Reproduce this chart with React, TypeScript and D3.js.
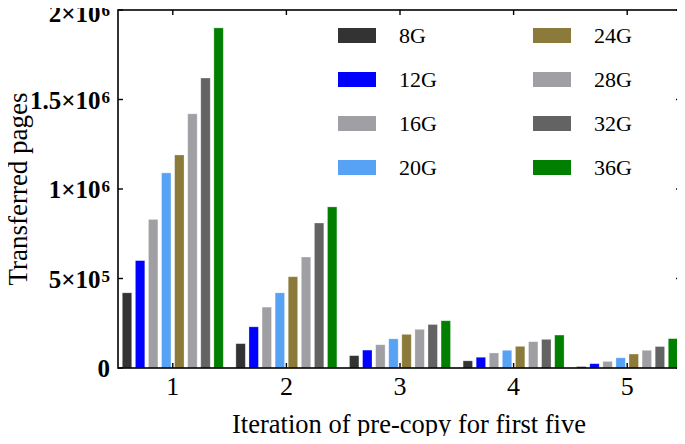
import React, { useEffect, useRef } from "react";
import * as d3 from "d3";

const iterations = [1, 2, 3, 4, 5];
const seriesNames = ["8G", "12G", "16G", "20G", "24G", "28G", "32G", "36G"];
const seriesColors = ["#333333", "#0000ff", "#a0a0a4", "#58a2f6", "#8b7a3a", "#a0a0a4", "#636363", "#007f00"];
// values per series, one entry per iteration
const v8G = [420000, 136000, 69000, 40000, 8000];
const v12G = [600000, 230000, 100000, 60000, 24000];
const v16G = [830000, 340000, 130000, 84000, 37000];
const v20G = [1090000, 420000, 163000, 99000, 57000];
const v24G = [1190000, 510000, 188000, 121000, 78000];
const v28G = [1420000, 620000, 216000, 147000, 99000];
const v32G = [1620000, 810000, 243000, 160000, 120000];
const v36G = [1900000, 900000, 264000, 184000, 164000];
const seriesValues = [v8G, v12G, v16G, v20G, v24G, v28G, v32G, v36G];
const yTicks = [0, 500000, 1000000, 1500000, 2000000];
const yTickLabels: [string, string][] = [["0", ""], ["5×10", "5"], ["1×10", "6"], ["1.5×10", "6"], ["2×10", "6"]];

export default function App() {
  const svgRef = useRef<SVGSVGElement>(null);

  useEffect(() => {
    if (!svgRef.current) return;
    const width = 685;
    const height = 444;
    const box = { left: 118, right: 681, top: 10, bottom: 368 };
    const font = "'Liberation Serif', 'Times New Roman', serif";

    const svg = d3.select(svgRef.current);
    svg.selectAll("*").remove();
    svg.attr("width", width).attr("height", height);

    const x = d3.scaleLinear().domain([0.5, 5.5]).range([116, 684]);
    const y = d3.scaleLinear().domain([0, 2000000]).range([box.bottom, box.top]);
    const inner = d3.scaleBand<string>()
      .domain(seriesNames)
      .range([-50.5, 50.5])
      .paddingInner(0.28)
      .paddingOuter(0);

    // bars
    seriesNames.forEach((name, si) => {
      svg.append("g")
        .selectAll("rect")
        .data(seriesValues[si])
        .join("rect")
        .attr("x", (_, i) => x(iterations[i]) + (inner(name) ?? 0))
        .attr("y", d => y(d))
        .attr("width", inner.bandwidth())
        .attr("height", d => y(0) - y(d))
        .attr("fill", seriesColors[si])
        .attr("stroke", "#ffffff")
        .attr("stroke-opacity", 0.35)
        .attr("stroke-width", 0.8);
    });

    // frame
    svg.append("rect")
      .attr("x", box.left).attr("y", box.top)
      .attr("width", box.right - box.left).attr("height", box.bottom - box.top)
      .attr("fill", "none").attr("stroke", "#000").attr("stroke-width", 1.6);

    // ticks (inward, mirrored)
    const tk = 5;
    yTicks.forEach(t => {
      svg.append("line").attr("x1", box.left).attr("x2", box.left + tk)
        .attr("y1", y(t)).attr("y2", y(t)).attr("stroke", "#000").attr("stroke-width", 1.4);
      svg.append("line").attr("x1", box.right).attr("x2", box.right - tk)
        .attr("y1", y(t)).attr("y2", y(t)).attr("stroke", "#000").attr("stroke-width", 1.4);
    });
    iterations.forEach(it => {
      svg.append("line").attr("x1", x(it)).attr("x2", x(it))
        .attr("y1", box.bottom).attr("y2", box.bottom - tk).attr("stroke", "#000").attr("stroke-width", 1.4);
      svg.append("line").attr("x1", x(it)).attr("x2", x(it))
        .attr("y1", box.top).attr("y2", box.top + tk).attr("stroke", "#000").attr("stroke-width", 1.4);
    });

    // y tick labels
    yTicks.forEach((t, i) => {
      const [base, sup] = yTickLabels[i];
      const txt = svg.append("text")
        .attr("x", 110).attr("y", y(t) + (i === yTicks.length - 1 ? 12 : 9))
        .attr("text-anchor", "end")
        .attr("font-family", font).attr("font-weight", "bold").attr("font-size", 25)
        .attr("fill", "#000");
      txt.append("tspan").text(base);
      if (sup) txt.append("tspan").attr("dx", 1).attr("dy", -6).attr("font-size", 17).text(sup);
    });

    // x tick labels
    iterations.forEach(it => {
      svg.append("text")
        .attr("x", x(it)).attr("y", 395)
        .attr("text-anchor", "middle")
        .attr("font-family", font).attr("font-size", 26).attr("fill", "#000")
        .text(String(it));
    });

    // axis titles
    svg.append("text")
      .attr("x", 409).attr("y", 433)
      .attr("text-anchor", "middle")
      .attr("font-family", font).attr("font-size", 26.5).attr("fill", "#000")
      .text("Iteration of pre-copy for first five");
    svg.append("text")
      .attr("transform", `translate(27, ${189}) rotate(-90)`)
      .attr("text-anchor", "middle")
      .attr("font-family", font).attr("font-size", 27).attr("fill", "#000")
      .text("Transferred pages");

    // legend
    const legend = svg.append("g");
    seriesNames.forEach((name, i) => {
      const col = Math.floor(i / 4);
      const row = i % 4;
      const lx = col === 0 ? 338 : 533;
      const ly = 35 + row * 44;
      legend.append("rect")
        .attr("x", lx).attr("y", ly - 7)
        .attr("width", 38).attr("height", 15)
        .attr("fill", seriesColors[i]);
      legend.append("text")
        .attr("x", lx + 61).attr("y", ly + 8)
        .attr("font-family", font).attr("font-size", 22).attr("fill", "#000")
        .text(name);
    });
  }, []);

  return (
    <div style={{ margin: -8 }}>
      <svg ref={svgRef} style={{ display: "block", background: "#fff" }} />
    </div>
  );
}
